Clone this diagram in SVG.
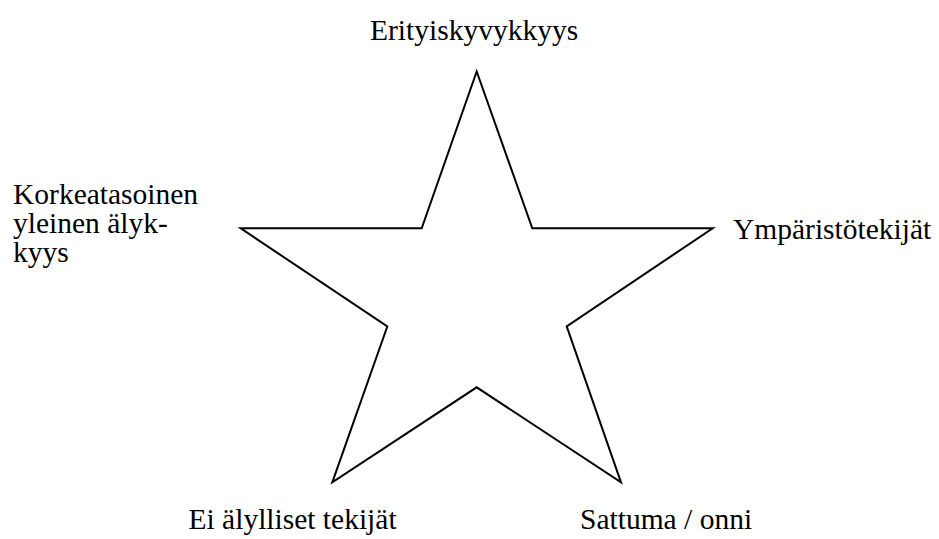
<svg xmlns="http://www.w3.org/2000/svg" width="939" height="539" viewBox="0 0 939 539">
<style>
text{font-size:29.5px;fill:#000}
.star{fill:#fff;stroke:#000;stroke-width:2;stroke-linejoin:miter}
</style>
<rect width="939" height="539" fill="#fff"/>
<g id="star">
<polygon class="star" points="476.7,71.5 532.3,228.3 712.7,228.3 566.7,326.3 621,482.3 476.7,387.3 332.3,482.3 387.3,326.5 240.7,228.3 421.7,228.3"/>
</g>
<g font-family="'Liberation Serif', 'Times New Roman', Times, 'DejaVu Serif', serif">
<g id="label-top"><text x="370" y="40">Erityiskyvykkyys</text></g>
<g id="label-right"><text x="733" y="238.5">Ympäristötekijät</text></g>
<g id="label-left"><text x="13" y="203.5">Korkeatasoinen</text><text x="13" y="232.5">yleinen älyk-</text><text x="13" y="261.5">kyys</text></g>
<g id="label-bottom-left"><text x="188.5" y="529">Ei älylliset tekijät</text></g>
<g id="label-bottom-right"><text x="580" y="529">Sattuma / onni</text></g>
</g>
</svg>
